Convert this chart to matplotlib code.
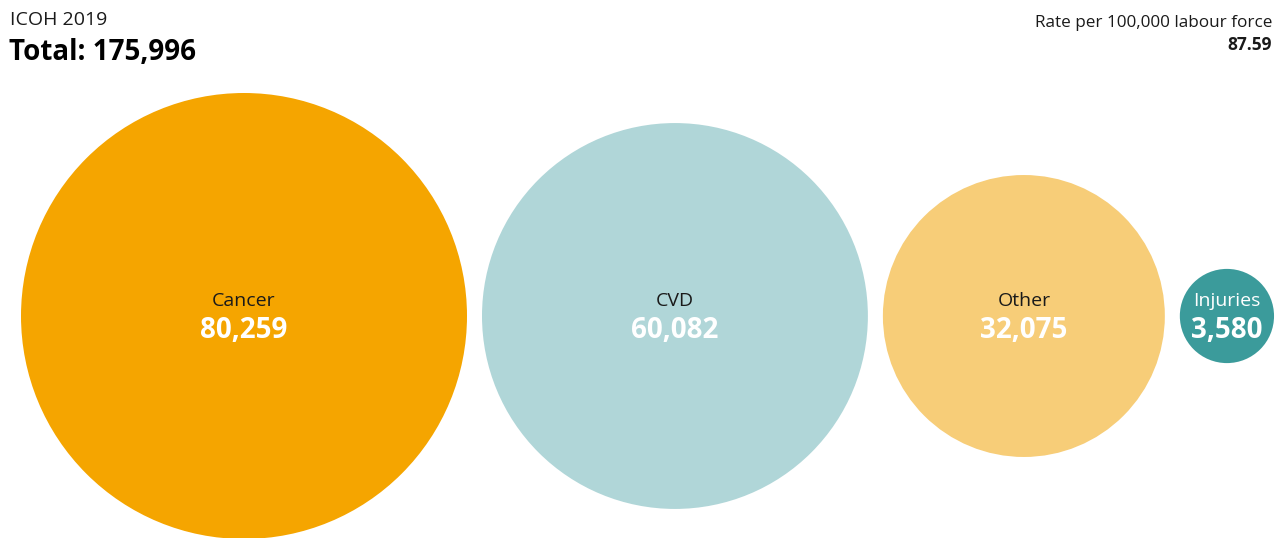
import numpy as np
import matplotlib
matplotlib.use("Agg")
import matplotlib.pyplot as plt
from matplotlib.patches import Circle

plt.rcParams['font.family'] = ['Open Sans', 'DejaVu Sans']

# data
categories = ['Cancer', 'CVD', 'Other', 'Injuries']
deaths = [80259, 60082, 32075, 3580]
colors = ['#f5a500', '#b0d6d8', '#f7cd78', '#3b9b9b']
label_colors = ['#1a1a1a', '#1a1a1a', '#1a1a1a', 'white']
total = 175996
rate = 87.59

W, H = 1275, 538
fig = plt.figure(figsize=(W / 100, H / 100), dpi=100)
ax = fig.add_axes([0, 0, 1, 1])
ax.set_xlim(0, W)
ax.set_ylim(H, 0)
ax.set_aspect('equal')
ax.axis('off')

# area proportional circles
k = 223 / np.sqrt(max(deaths))
radii = [k * np.sqrt(v) for v in deaths]
gap = 15
x = 21
cy = 316
for cat, v, r, c, lc in zip(categories, deaths, radii, colors, label_colors):
    cx = x + r
    ax.add_patch(Circle((cx, cy), r, color=c, lw=0))
    ax.text(cx, cy - 15, cat, ha='center', va='center', color=lc, fontsize=14)
    ax.text(cx, cy + 15, f'{v:,}', ha='center', va='center', color='white',
            fontsize=20, fontweight='bold')
    x = cx + r + gap

ax.text(10, 20, 'ICOH 2019', ha='left', va='center', fontsize=14, color='#1a1a1a')
ax.text(9, 53, f'Total: {total:,}', ha='left', va='center', fontsize=20,
        fontweight='bold', color='black')
ax.text(1272, 23, 'Rate per 100,000 labour force', ha='right', va='center',
        fontsize=12.3, color='#1a1a1a')
ax.text(1272, 45, f'{rate:.2f}', ha='right', va='center', fontsize=12.5,
        fontweight='bold', color='#1a1a1a')

fig.savefig('out.png', dpi=100, facecolor='white')
